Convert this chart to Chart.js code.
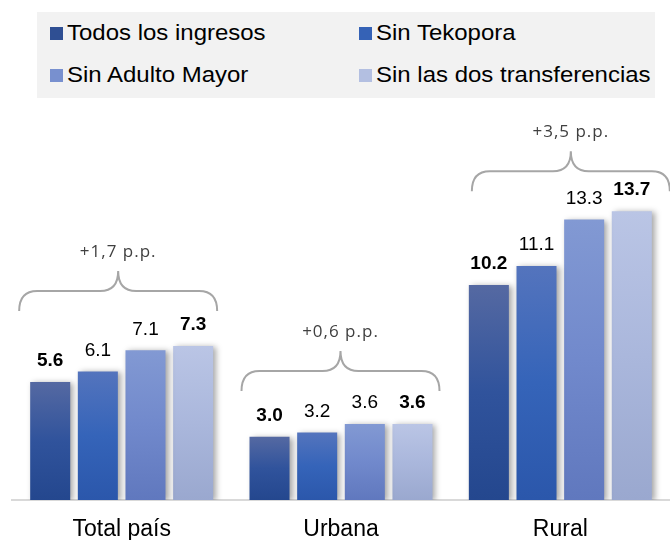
<!DOCTYPE html>
<html>
<head>
<meta charset="utf-8">
<script src="https://cdn.jsdelivr.net/npm/chart.js@4"></script>
<style>
  html, body { margin: 0; padding: 0; background: #fff; }
  #wrap { position: relative; width: 670px; height: 540px; overflow: hidden; }
  #chart { position: absolute; left: 0; top: 0; }
  #legend {
    position: absolute; left: 37px; top: 12px; width: 618px; height: 86px;
    background: #f2f2f2; color: #000;
    font-family: "Liberation Sans", Arial, sans-serif; font-size: 22px;
  }
  .item { position: absolute; height: 26px; display: flex; align-items: center; white-space: nowrap; }
  .item .box { width: 13px; height: 13px; margin-right: 4px; }
  .item .txt { display: inline-block; transform: scaleX(1.09); transform-origin: left center; }
</style>
</head>
<body>
<div id="wrap">
  <canvas id="chart" width="670" height="540"></canvas>
  <div id="legend"></div>
</div>
<script>
// Data
const categories = ['Total país', 'Urbana', 'Rural'];
const seriesNames = ['Todos los ingresos', 'Sin Tekopora', 'Sin Adulto Mayor', 'Sin las dos transferencias'];
const todosIngresos = [5.6, 3.0, 10.2];
const sinTekopora = [6.1, 3.2, 11.1];
const sinAdultoMayor = [7.1, 3.6, 13.3];
const sinDosTransferencias = [7.3, 3.6, 13.7];

// gradient stops per series (top, middle, bottom) and legend swatch
const fills = [
    ['#5569a2', '#30539c', '#24478e'],
    ['#5474bd', '#3564b9', '#2b57ab'],
    ['#8299d3', '#7189cc', '#6078be'],
    ['#bac5e5', '#aab7dc', '#9aa8cf']
];
const swatches = ['#2f4f93', '#3562b6', '#7890cf', '#b3bfe1'];
const boldSeries = [true, false, false, true];

// brace tweaks per category (horizontal shift, lift above highest bar)
const braceShift = [0, 3, 14];
const braceLift = [35, 33, 20];

function barFill(stops) {
    return function(context) {
        const chart = context.chart;
        if (!chart.chartArea || context.type !== 'data') return stops[1];
        const y = chart.scales.y;
        const top = y.getPixelForValue(context.raw);
        const bottom = y.getPixelForValue(0);
        const g = chart.ctx.createLinearGradient(0, top, 0, bottom);
        g.addColorStop(0, stops[0]);
        g.addColorStop(0.5, stops[1]);
        g.addColorStop(1, stops[2]);
        return g;
    };
}

// soft shadow behind bars
const barShadow = {
    id: 'barShadow',
    beforeDatasetsDraw(chart) {
        const c = chart.ctx;
        c.save();
        c.shadowColor = 'rgba(0, 0, 0, 0.35)';
        c.shadowBlur = 6;
        c.shadowOffsetX = 3;
        c.shadowOffsetY = 1;
    },
    afterDatasetsDraw(chart) {
        chart.ctx.restore();
    }
};

// value labels + braces with the difference
const annotations = {
    id: 'annotations',
    afterDraw(chart) {
        const c = chart.ctx;
        const sets = chart.data.datasets;
        c.save();
        c.textAlign = 'center';
        c.textBaseline = 'middle';
        c.fillStyle = '#000';
        sets.forEach((ds, di) => {
            const meta = chart.getDatasetMeta(di);
            c.font = (boldSeries[di] ? 'bold ' : '') + '19px "Liberation Sans", Arial, sans-serif';
            meta.data.forEach((bar, i) => {
                c.fillText(ds.data[i].toFixed(1), bar.x, bar.y - 21);
            });
        });

        const first = chart.getDatasetMeta(0);
        const last = chart.getDatasetMeta(sets.length - 1);
        categories.forEach((cat, i) => {
            const b0 = first.data[i];
            const b1 = last.data[i];
            let topMost = Infinity;
            sets.forEach((ds, di) => {
                topMost = Math.min(topMost, chart.getDatasetMeta(di).data[i].y);
            });
            const x0 = b0.x - b0.width / 2 - 11 + braceShift[i];
            const x1 = b1.x + b1.width / 2 + 4 + braceShift[i];
            const cx = (x0 + x1) / 2;
            const yE = topMost - braceLift[i];
            const yH = yE - 20;
            const yP = yH - 20;
            const r = 18;
            c.beginPath();
            c.moveTo(x0, yE);
            c.quadraticCurveTo(x0, yH, x0 + r, yH);
            c.lineTo(cx - r, yH);
            c.quadraticCurveTo(cx, yH, cx, yP);
            c.quadraticCurveTo(cx, yH, cx + r, yH);
            c.lineTo(x1 - r, yH);
            c.quadraticCurveTo(x1, yH, x1, yE);
            c.strokeStyle = '#a6a6a6';
            c.lineWidth = 2;
            c.stroke();

            const diff = sets[sets.length - 1].data[i] - sets[0].data[i];
            c.font = '17px "Open Sans", sans-serif';
            c.letterSpacing = '1px';
            c.fillStyle = '#404040';
            c.fillText('+' + diff.toFixed(1).replace('.', ',') + ' p.p.', cx, yP - 19);
            c.letterSpacing = '0px';
            c.fillStyle = '#000';
        });
        c.restore();
    }
};

// HTML legend
const legendEl = document.getElementById('legend');
seriesNames.forEach((name, i) => {
    const item = document.createElement('div');
    item.className = 'item';
    item.style.left = (i % 2 === 0 ? 13 : 322) + 'px';
    item.style.top = (i < 2 ? 8 : 50) + 'px';
    const box = document.createElement('span');
    box.className = 'box';
    box.style.background = swatches[i];
    const txt = document.createElement('span');
    txt.className = 'txt';
    txt.textContent = name;
    item.appendChild(box);
    item.appendChild(txt);
    legendEl.appendChild(item);
});

const seriesValues = [todosIngresos, sinTekopora, sinAdultoMayor, sinDosTransferencias];

new Chart(document.getElementById('chart'), {
    type: 'bar',
    data: {
        labels: categories,
        datasets: seriesValues.map((vals, i) => ({
            label: seriesNames[i],
            data: vals,
            backgroundColor: barFill(fills[i]),
            borderWidth: 0,
            categoryPercentage: 0.869,
            barPercentage: 0.84
        }))
    },
    options: {
        responsive: false,
        animation: false,
        devicePixelRatio: 1,
        layout: {
            padding: { top: 110, left: 12, right: 0, bottom: 0 }
        },
        plugins: {
            legend: { display: false },
            tooltip: { enabled: false }
        },
        scales: {
            x: {
                grid: { display: false, drawTicks: false },
                border: { display: true, color: '#d9d9d9', width: 2 },
                ticks: {
                    color: '#000',
                    padding: 16,
                    font: { family: '"Liberation Sans", Arial, sans-serif', size: 23 }
                },
                afterFit: function(scale) {
                    scale.height = 40;
                }
            },
            y: {
                display: false,
                min: 0,
                max: 18.5
            }
        }
    },
    plugins: [barShadow, annotations]
});
</script>
</body>
</html>
